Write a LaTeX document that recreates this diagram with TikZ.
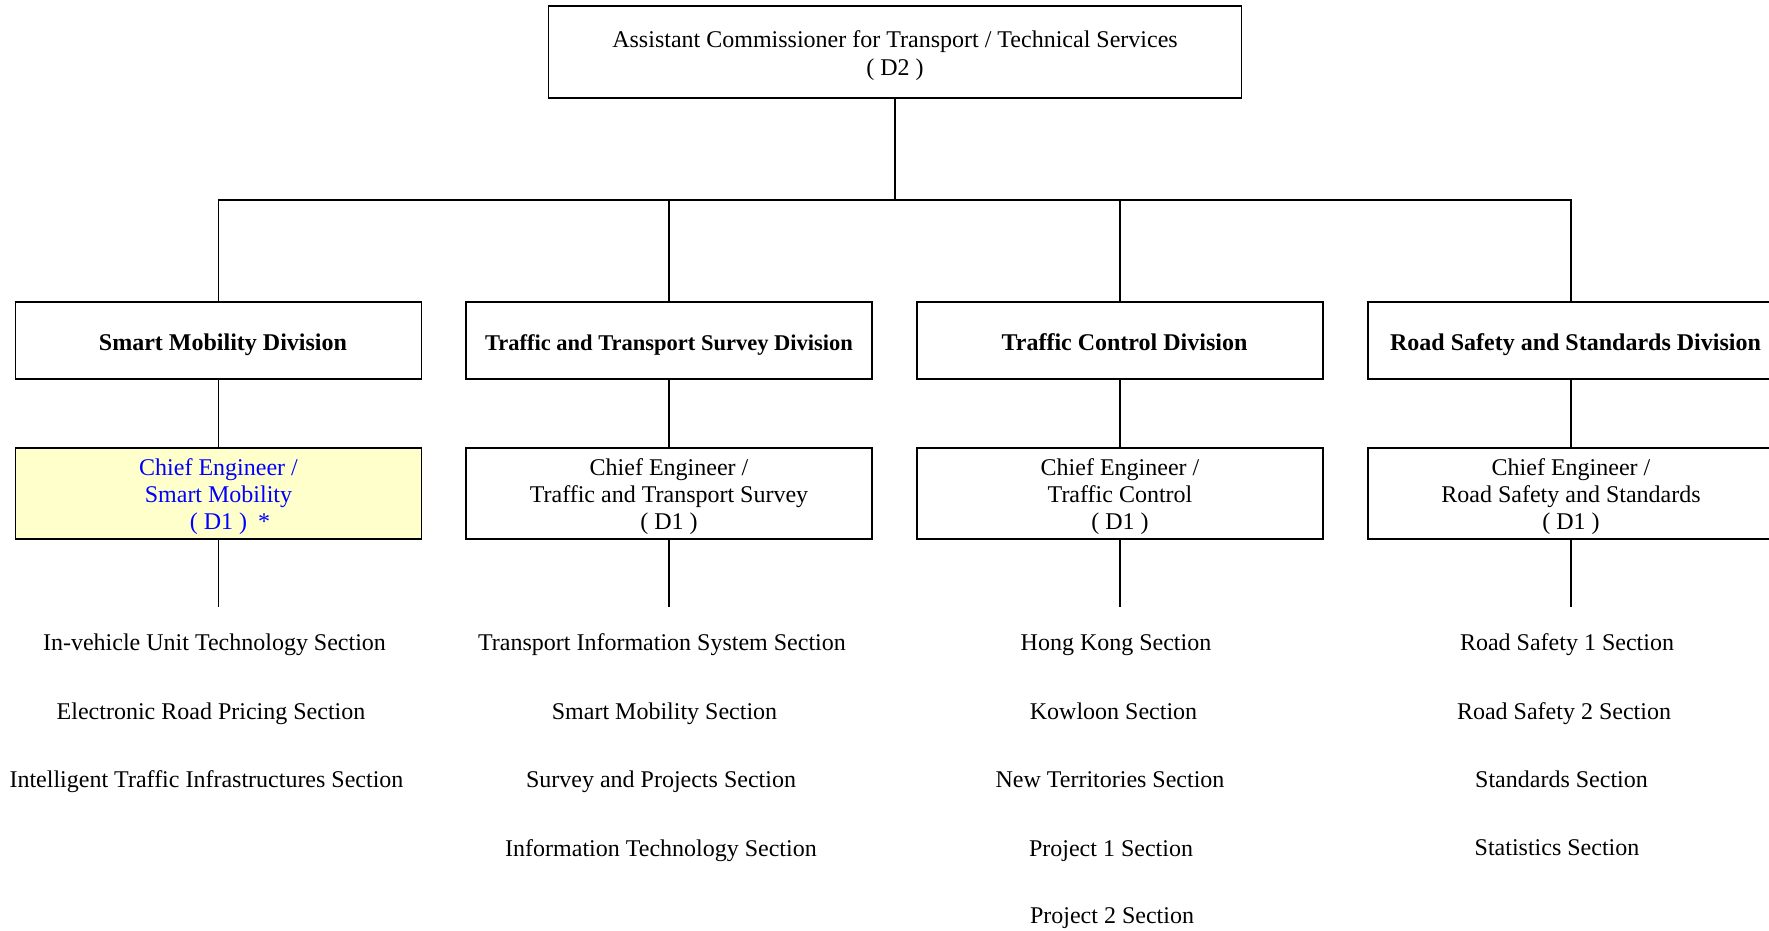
\documentclass[tikz,border=0pt]{standalone}
\usepackage{fontspec}
\setmainfont{Liberation Serif}
\definecolor{ceyellow}{HTML}{FFFFCC}
\definecolor{ceblue}{HTML}{0000FF}
\begin{document}
\begin{tikzpicture}[x=1pt,y=-1pt,
  box/.style={draw, line width=1.2pt, rectangle, inner sep=0pt},
  boxtext/.style={inner sep=0pt, align=center, yshift=-3.5pt,
    font=\fontsize{24}{27}\selectfont},
  topbox/.style={box, minimum width=693pt, minimum height=92pt},
  divbox/.style={box, minimum width=406pt, minimum height=77pt},
  cebox/.style={box, minimum width=406pt, minimum height=91pt},
  divtext/.style={inner sep=0pt, text height=16.5pt, text depth=5.5pt, yshift=-4pt,
    xshift=4.5pt, font=\fontsize{24}{27}\selectfont\bfseries},
  sect/.style={anchor=base, inner sep=0pt, font=\fontsize{24}{27}\selectfont},
  link/.style={line width=1.2pt}]
\useasboundingbox (0,0) rectangle (1769,930);

% head of the branch
\node[topbox, label={[boxtext, font=\fontsize{24}{28}\selectfont]center:Assistant Commissioner for Transport / Technical Services\\( D2 )}] (top) at (895,52) {};
\coordinate (bus) at (895,200);

% divisions
\node[divbox, label={[divtext]center:Smart Mobility Division}] (d1) at (218.5,340.5) {};
\node[divbox, label={[divtext, xshift=-4.5pt, font=\fontsize{22.5}{27}\selectfont\bfseries]center:Traffic and Transport Survey Division}] (d2) at (669,340.5) {};
\node[divbox, label={[divtext]center:Traffic Control Division}] (d3) at (1120,340.5) {};
\node[divbox, label={[divtext]center:Road Safety and Standards Division}] (d4) at (1571,340.5) {};

% chief engineers
\node[cebox, fill=ceyellow, label={[boxtext, text=ceblue]center:Chief Engineer /\\Smart Mobility\\( D1 )\rlap{\hspace{11pt}*}}] (c1) at (218.5,493.5) {};
\node[cebox, label={[boxtext]center:Chief Engineer /\\Traffic and Transport Survey\\( D1 )}] (c2) at (669,493.5) {};
\node[cebox, label={[boxtext]center:Chief Engineer /\\Traffic Control\\( D1 )}] (c3) at (1120,493.5) {};
\node[cebox, label={[boxtext]center:Chief Engineer /\\Road Safety and Standards\\( D1 )}] (c4) at (1571,493.5) {};

% ends of the drop lines above the sections
\coordinate (e1) at (218.5,607);
\coordinate (e2) at (669,607);
\coordinate (e3) at (1120,607);
\coordinate (e4) at (1571,607);

% connectors
\draw[link] (top.south) -- (bus);
\draw[link] (d1.north) |- (bus) -| (d4.north);
\draw[link] (d2.north) -- (d2.north |- bus);
\draw[link] (d3.north) -- (d3.north |- bus);
\foreach \i in {1,2,3,4} {
  \draw[link] (d\i.south) -- (c\i.north);
  \draw[link] (c\i.south) -- (e\i);
}

% sections
\node[sect] (s11) at (214.5,650.5) {In-vehicle Unit Technology Section};
\node[sect] (s12) at (211,719) {Electronic Road Pricing Section};
\node[sect] (s13) at (206.5,787) {Intelligent Traffic Infrastructures Section};

\node[sect] (s21) at (662,650.5) {Transport Information System Section};
\node[sect] (s22) at (664.5,719) {Smart Mobility Section};
\node[sect] (s23) at (661,787) {Survey and Projects Section};
\node[sect] (s24) at (661,856) {Information Technology Section};

\node[sect] (s31) at (1116,650.5) {Hong Kong Section};
\node[sect] (s32) at (1113.5,719) {Kowloon Section};
\node[sect] (s33) at (1110,787) {New Territories Section};
\node[sect] (s34) at (1111,856) {Project 1 Section};
\node[sect] (s35) at (1112,923) {Project 2 Section};

\node[sect] (s41) at (1567,650.5) {Road Safety 1 Section};
\node[sect] (s42) at (1564,719) {Road Safety 2 Section};
\node[sect] (s43) at (1561.5,787) {Standards Section};
\node[sect] (s44) at (1557,855) {Statistics Section};
\end{tikzpicture}
\end{document}
